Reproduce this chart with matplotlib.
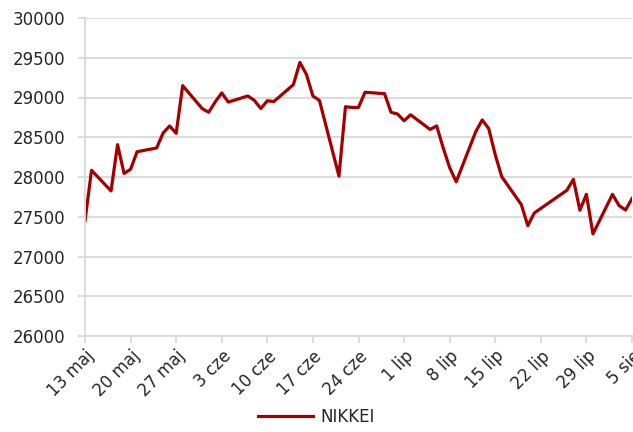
import matplotlib
matplotlib.use("Agg")
import matplotlib.pyplot as plt
import pandas as pd

# NIKKEI, daily closes
dates = [
    "2021-05-13", "2021-05-14", "2021-05-17", "2021-05-18", "2021-05-19", "2021-05-20",
    "2021-05-21", "2021-05-24", "2021-05-25", "2021-05-26", "2021-05-27", "2021-05-28",
    "2021-05-31", "2021-06-01", "2021-06-02", "2021-06-03", "2021-06-04", "2021-06-07",
    "2021-06-08", "2021-06-09", "2021-06-10", "2021-06-11", "2021-06-14", "2021-06-15",
    "2021-06-16", "2021-06-17", "2021-06-18", "2021-06-21", "2021-06-22", "2021-06-23",
    "2021-06-24", "2021-06-25", "2021-06-28", "2021-06-29", "2021-06-30", "2021-07-01",
    "2021-07-02", "2021-07-05", "2021-07-06", "2021-07-07", "2021-07-08", "2021-07-09",
    "2021-07-12", "2021-07-13", "2021-07-14", "2021-07-15", "2021-07-16", "2021-07-19",
    "2021-07-20", "2021-07-21", "2021-07-26", "2021-07-27", "2021-07-28", "2021-07-29",
    "2021-07-30", "2021-08-02", "2021-08-03", "2021-08-04", "2021-08-05",
]
nikkei = [
    27448, 28084, 27825, 28407, 28044, 28098,
    28318, 28365, 28554, 28642, 28549, 29149,
    28860, 28814, 28946, 29058, 28942, 29019,
    28964, 28861, 28959, 28949, 29162, 29441,
    29291, 29018, 28964, 28011, 28884, 28875,
    28875, 29066, 29048, 28813, 28792, 28707,
    28783, 28598, 28643, 28367, 28118, 27940,
    28569, 28718, 28608, 28279, 28003, 27653,
    27388, 27548, 27833, 27970, 27582, 27782,
    27284, 27781, 27642, 27584, 27728,
]

tick_dates = ["2021-05-13", "2021-05-20", "2021-05-27", "2021-06-03", "2021-06-10",
              "2021-06-17", "2021-06-24", "2021-07-01", "2021-07-08", "2021-07-15",
              "2021-07-22", "2021-07-29", "2021-08-05"]
tick_labels = ["13 maj", "20 maj", "27 maj", "3 cze", "10 cze", "17 cze", "24 cze",
               "1 lip", "8 lip", "15 lip", "22 lip", "29 lip", "5 sie"]
y_ticks = list(range(26000, 30001, 500))

grid_col = "#d9d9d9"
text_col = "#262626"

plt.rcParams["font.family"] = ["DejaVu Sans"]

x = pd.to_datetime(dates)
fig = plt.figure(figsize=(6.33, 4.32), dpi=100)
ax = fig.add_axes([85 / 633, 1 - 336 / 432, 547 / 633, 318 / 432])

ax.plot(x, nikkei, color="#a50000", linewidth=2.3, label="NIKKEI", solid_joinstyle="round")

ax.set_ylim(26000, 30000)
ax.set_yticks(y_ticks)
ax.set_yticklabels([str(v) for v in y_ticks])
ax.set_xlim(pd.Timestamp(tick_dates[0]), pd.Timestamp(tick_dates[-1]))
ax.set_xticks(pd.to_datetime(tick_dates))
ax.set_xticklabels(tick_labels, rotation=45, ha="right", rotation_mode="anchor")

ax.grid(axis="y", color=grid_col, linewidth=1.3)
ax.set_axisbelow(True)
for s in ["top", "right"]:
    ax.spines[s].set_visible(False)
for s in ["left", "bottom"]:
    ax.spines[s].set_color(grid_col)
    ax.spines[s].set_linewidth(1.3)
ax.tick_params(axis="both", colors=grid_col, length=5, width=1.3, labelsize=12,
               labelcolor=text_col)
ax.tick_params(axis="y", pad=9)
ax.tick_params(axis="x", pad=3)

fig.legend(loc="lower center", bbox_to_anchor=(0.5, -0.02), frameon=False,
           fontsize=12, labelcolor=text_col, handlelength=3.3, handletextpad=0.4)

fig.savefig("out.png", dpi=100)
